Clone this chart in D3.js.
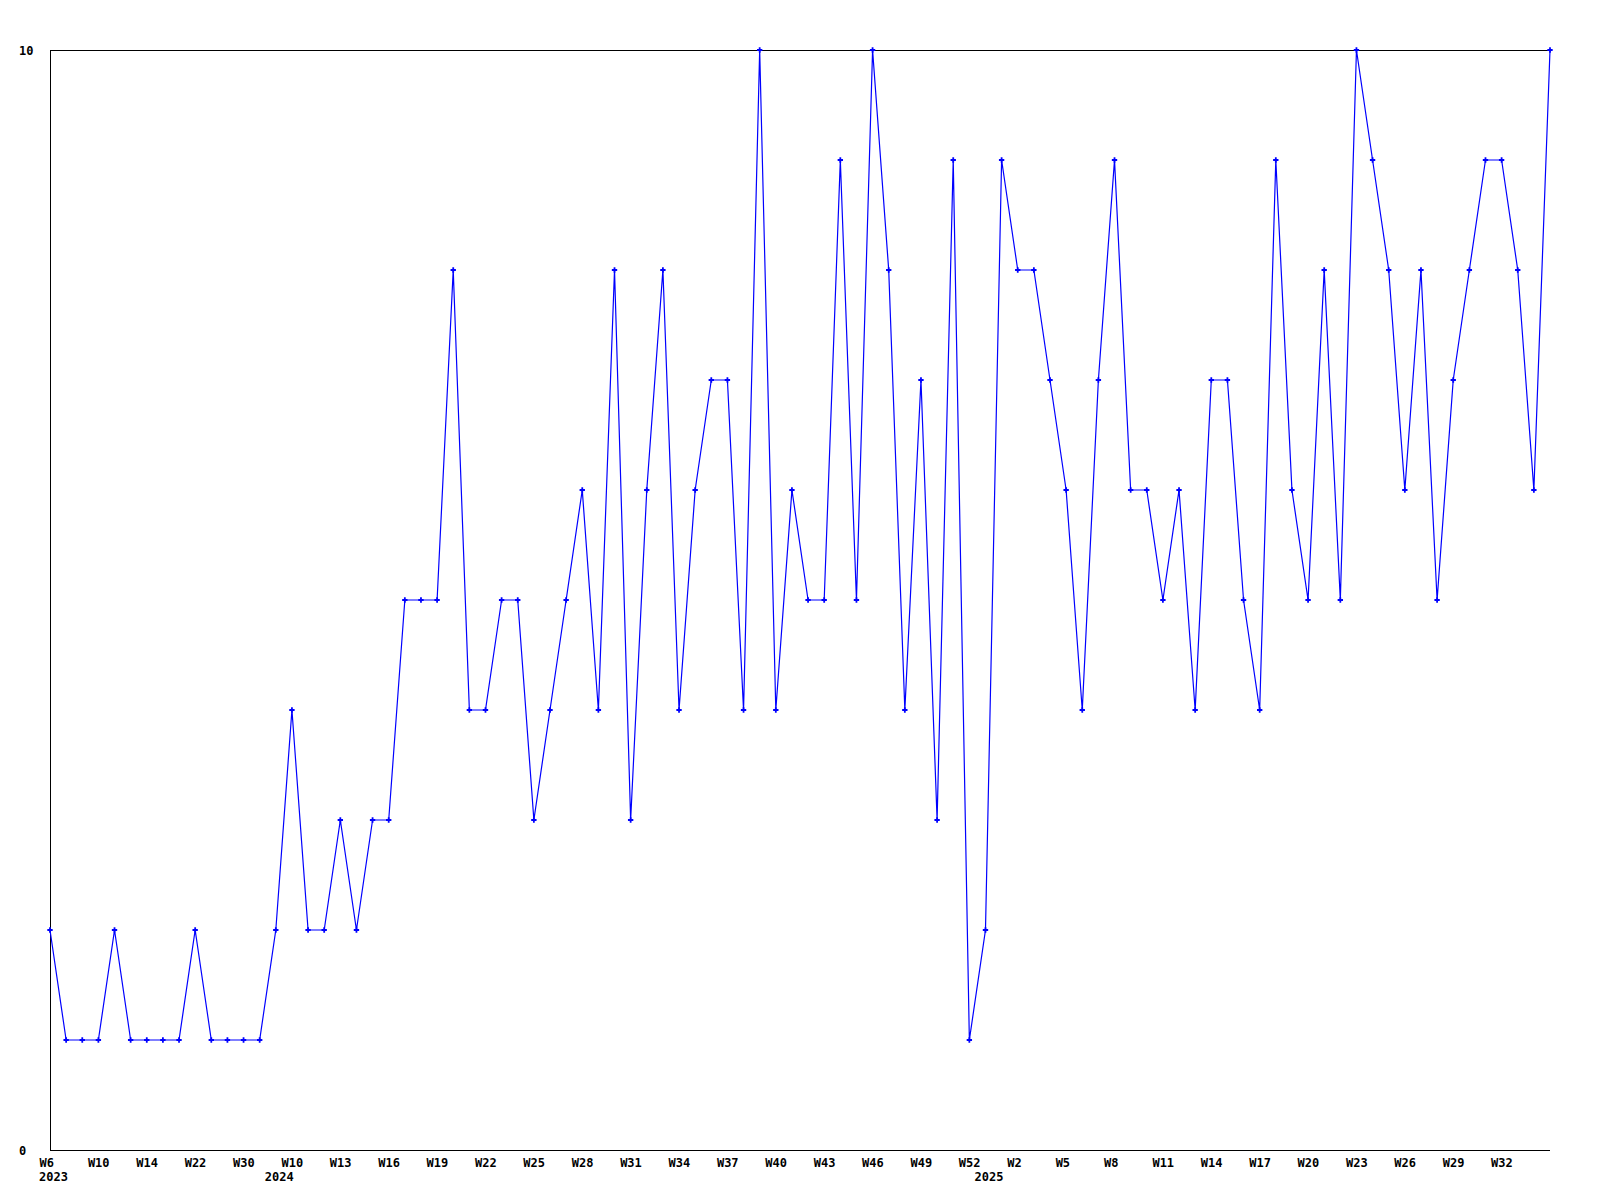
<!DOCTYPE html>
<html>
<head>
<meta charset="utf-8">
<script src="https://cdn.jsdelivr.net/npm/d3@7"></script>
<style>
  html, body { margin: 0; padding: 0; background: #fff; }
  svg text { font-family: "DejaVu Sans Mono", "Liberation Mono", monospace; font-weight: bold; font-size: 12px; fill: #000; }
</style>
</head>
<body>
<svg id="chart" width="1600" height="1200"></svg>
<script>
// ---- data ----
const values = [
  2, 1, 1, 1, 2, 1, 1, 1, 1, 2,
  1, 1, 1, 1, 2, 4, 2, 2, 3, 2,
  3, 3, 5, 5, 5, 8, 4, 4, 5, 5,
  3, 4, 5, 6, 4, 8, 3, 6, 8, 4,
  6, 7, 7, 4, 10, 4, 6, 5, 5, 9,
  5, 10, 8, 4, 7, 3, 9, 1, 2, 9,
  8, 8, 7, 6, 4, 7, 9, 6, 6, 5,
  6, 4, 7, 7, 5, 4, 9, 6, 5, 8,
  5, 10, 9, 8, 6, 8, 5, 7, 8, 9,
  9, 8, 6, 10
];
const tickIndex = [0, 3, 6, 9, 12, 15, 18, 21, 24, 27, 30, 33, 36, 39, 42, 45, 48, 51, 54, 57, 60, 63, 66, 69, 72, 75, 78, 81, 84, 87, 90];
const tickLabels = ["W6", "W10", "W14", "W22", "W30", "W10", "W13", "W16", "W19", "W22", "W25", "W28", "W31", "W34", "W37", "W40", "W43", "W46", "W49", "W52", "W2", "W5", "W8", "W11", "W14", "W17", "W20", "W23", "W26", "W29", "W32"];
const yearIndex = [0, 14, 58];
const yearLabels = ["2023", "2024", "2025"];
const yTicks = [0, 10];

// ---- layout ----
const mLeft = 50, mRight = 1550, mTop = 50, mBottom = 1150;
const svg = d3.select("#chart");

const x = d3.scaleLinear().domain([0, values.length - 1]).range([mLeft, mRight]);
const y = d3.scaleLinear().domain([0, 10]).range([mBottom, mTop]);

// frame (top, left, bottom)
svg.append("path")
  .attr("d", `M${mRight},${mTop + 0.5}H${mLeft + 0.5}V${mBottom + 0.5}H${mRight}`)
  .attr("fill", "none").attr("stroke", "#000").attr("stroke-width", 1)
  .attr("shape-rendering", "crispEdges");

// x axis labels
const labelMap = new Map(tickIndex.map((d, i) => [d, tickLabels[i]]));
const xAxis = d3.axisBottom(x).tickValues(tickIndex).tickSize(0).tickPadding(0)
  .tickFormat(d => labelMap.get(d));
const gx = svg.append("g").attr("transform", `translate(0,${mBottom})`).call(xAxis);
gx.select(".domain").remove();
gx.selectAll("text").attr("text-anchor", "start").attr("dx", -11).attr("y", 17).attr("dy", null);
gx.attr("font-family", null).attr("font-size", null);
gx.selectAll("text").attr("fill", null);

// year labels
svg.append("g").selectAll("text").data(yearIndex).join("text")
  .attr("x", d => x(d) - 11).attr("y", mBottom + 31)
  .text((d, i) => yearLabels[i]);

// y axis labels
const yAxis = d3.axisLeft(y).tickValues(yTicks).tickSize(0).tickPadding(0).tickFormat(d3.format("d"));
const gy = svg.append("g").call(yAxis);
gy.select(".domain").remove();
gy.attr("font-family", null).attr("font-size", null).attr("text-anchor", null);
gy.selectAll("text").attr("text-anchor", "start").attr("x", 19).attr("dy", "0.35em").attr("fill", null);

// line
const line = d3.line().x((d, i) => x(i)).y(d => y(d));
svg.append("path").datum(values)
  .attr("d", line).attr("fill", "none").attr("stroke", "#0000ff").attr("stroke-width", 1.2);

// markers
const cross = d3.symbol().type(d3.symbolCross).size(16);
svg.append("g").selectAll("path").data(values).join("path")
  .attr("transform", (d, i) => `translate(${x(i)},${y(d)})`)
  .attr("d", cross).attr("fill", "#0000ff");
</script>
</body>
</html>
